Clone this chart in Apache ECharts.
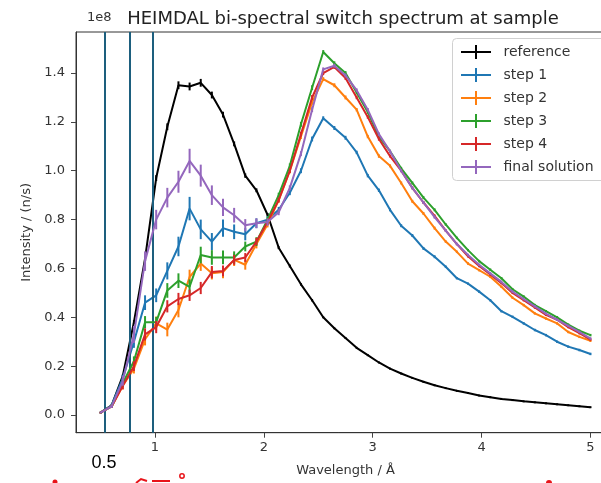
<!DOCTYPE html>
<html>
<head>
<meta charset="utf-8">
<script src="https://cdn.jsdelivr.net/npm/echarts@6/dist/echarts.min.js"></script>
<style>
html,body{margin:0;padding:0;background:#fff;}
#chart{width:601px;height:483px;}
</style>
</head>
<body>
<div id="chart"></div>
<script>
// Wavelength grid (Å)
const wavelength = [0.5, 0.6023, 0.7045, 0.8068, 0.9091, 1.0114, 1.1136, 1.2159, 1.3182, 1.4205,
  1.5227, 1.625, 1.7273, 1.8295, 1.9318, 2.0341, 2.1364, 2.2386, 2.3409, 2.4432,
  2.5455, 2.6477, 2.75, 2.8523, 2.9545, 3.0568, 3.1591, 3.2614, 3.3636, 3.4659,
  3.5682, 3.6705, 3.7727, 3.875, 3.9773, 4.0795, 4.1818, 4.2841, 4.3864, 4.4886,
  4.5909, 4.6932, 4.7955, 4.8977, 5.0];

// Intensities in units of 1e8 n/s
const reference = [0.01,0.04,0.16,0.38,0.64,0.97,1.18,1.35,1.345,1.36,
  1.31,1.23,1.11,0.98,0.92,0.82,0.685,0.61,0.535,0.47,
  0.40,0.355,0.315,0.275,0.245,0.215,0.19,0.17,0.152,0.136,
  0.122,0.11,0.099,0.09,0.08,0.073,0.066,0.061,0.056,0.052,
  0.048,0.044,0.04,0.036,0.032];
const step1 = [0.01,0.04,0.15,0.30,0.46,0.49,0.59,0.69,0.845,0.76,
  0.71,0.765,0.75,0.74,0.785,0.80,0.84,0.91,1.00,1.13,
  1.215,1.175,1.135,1.075,0.98,0.92,0.84,0.775,0.735,0.682,
  0.648,0.607,0.56,0.538,0.505,0.47,0.425,0.402,0.375,0.348,
  0.327,0.30,0.28,0.266,0.25];
const step2 = [0.01,0.035,0.12,0.19,0.31,0.375,0.35,0.43,0.565,0.62,
  0.58,0.585,0.635,0.615,0.70,0.78,0.88,1.00,1.14,1.28,
  1.375,1.35,1.30,1.25,1.14,1.06,1.02,0.95,0.875,0.825,
  0.765,0.71,0.668,0.62,0.593,0.566,0.525,0.48,0.45,0.416,
  0.395,0.375,0.34,0.32,0.304];
const step3 = [0.01,0.035,0.13,0.22,0.38,0.38,0.51,0.55,0.525,0.655,
  0.645,0.645,0.645,0.69,0.71,0.80,0.90,1.02,1.19,1.34,
  1.486,1.44,1.40,1.32,1.24,1.14,1.08,1.01,0.95,0.89,
  0.84,0.78,0.725,0.675,0.63,0.595,0.56,0.515,0.485,0.45,
  0.425,0.40,0.37,0.345,0.327];
const step4 = [0.01,0.035,0.12,0.20,0.33,0.36,0.445,0.475,0.49,0.52,
  0.585,0.59,0.635,0.645,0.71,0.79,0.88,1.00,1.15,1.30,
  1.40,1.425,1.38,1.30,1.22,1.13,1.06,1.00,0.93,0.87,
  0.815,0.755,0.70,0.65,0.61,0.575,0.54,0.50,0.47,0.44,
  0.41,0.39,0.36,0.335,0.309];
const finalSolution = [0.01,0.035,0.14,0.33,0.63,0.80,0.89,0.955,1.04,0.98,
  0.90,0.85,0.818,0.777,0.785,0.79,0.83,0.93,1.07,1.25,
  1.415,1.43,1.39,1.33,1.25,1.15,1.08,1.00,0.93,0.87,
  0.81,0.755,0.70,0.655,0.615,0.58,0.545,0.505,0.475,0.445,
  0.415,0.39,0.365,0.34,0.313];

// Error bar half-lengths (1e8 n/s)
const referenceErr = [0.003,0.004,0.006,0.008,0.01,0.012,0.014,0.016,0.016,0.016,
  0.014,0.012,0.01,0.009,0.008,0.007,0.006,0.006,0.005,0.005,
  0.004,0.004,0.004,0.004,0.004,0.004,0.004,0.004,0.004,0.004,
  0.004,0.004,0.004,0.004,0.004,0.004,0.004,0.004,0.004,0.004,
  0.004,0.004,0.004,0.004,0.004];
const step1Err = [0.003,0.006,0.015,0.025,0.03,0.028,0.035,0.04,0.048,0.04,
  0.035,0.035,0.03,0.025,0.02,0.015,0.012,0.01,0.01,0.01,
  0.008,0.008,0.008,0.007,0.007,0.007,0.006,0.006,0.006,0.006,
  0.006,0.005,0.005,0.005,0.005,0.005,0.005,0.005,0.005,0.005,
  0.005,0.005,0.005,0.005,0.005];
const step2Err = [0.003,0.006,0.015,0.02,0.025,0.028,0.028,0.03,0.03,0.03,
  0.025,0.025,0.025,0.02,0.018,0.012,0.01,0.01,0.01,0.01,
  0.008,0.008,0.008,0.007,0.007,0.007,0.006,0.006,0.006,0.006,
  0.006,0.005,0.005,0.005,0.005,0.005,0.005,0.005,0.005,0.005,
  0.005,0.005,0.005,0.005,0.005];
const step3Err = [0.003,0.006,0.015,0.02,0.025,0.022,0.03,0.03,0.03,0.034,
  0.03,0.028,0.025,0.02,0.018,0.012,0.01,0.01,0.01,0.01,
  0.008,0.008,0.008,0.007,0.007,0.007,0.006,0.006,0.006,0.006,
  0.006,0.005,0.005,0.005,0.005,0.005,0.005,0.005,0.005,0.005,
  0.005,0.005,0.005,0.005,0.005];
const step4Err = [0.003,0.006,0.015,0.02,0.025,0.025,0.025,0.025,0.023,0.025,
  0.025,0.022,0.02,0.018,0.015,0.012,0.01,0.01,0.01,0.01,
  0.008,0.008,0.008,0.007,0.007,0.007,0.006,0.006,0.006,0.006,
  0.006,0.005,0.005,0.005,0.005,0.005,0.005,0.005,0.005,0.005,
  0.005,0.005,0.005,0.005,0.005];
const finalSolutionErr = [0.003,0.006,0.02,0.035,0.04,0.04,0.04,0.045,0.05,0.045,
  0.04,0.035,0.03,0.025,0.02,0.015,0.012,0.01,0.01,0.01,
  0.008,0.008,0.008,0.007,0.007,0.007,0.006,0.006,0.006,0.006,
  0.006,0.005,0.005,0.005,0.005,0.005,0.005,0.005,0.005,0.005,
  0.005,0.005,0.005,0.005,0.005];

const seriesNames = ['reference', 'step 1', 'step 2', 'step 3', 'step 4', 'final solution'];
const seriesValues = [reference, step1, step2, step3, step4, finalSolution];
const seriesErrors = [referenceErr, step1Err, step2Err, step3Err, step4Err, finalSolutionErr];
const seriesColors = ['#000000', '#1f77b4', '#ff7f0e', '#2ca02c', '#d62728', '#9467bd'];

const xTicks = [1, 2, 3, 4, 5];
const yTicks = [0, 0.2, 0.4, 0.6, 0.8, 1.0, 1.2, 1.4];
const overlayLines = [0.535, 0.77, 0.985];

const FONT = 'DejaVu Sans';
const crossIcon = 'path://M0,6L30,6L30,8L0,8Z M14,0L16,0L16,14L14,14Z';

const chart = echarts.init(document.getElementById('chart'), null, {renderer: 'canvas'});

const series = [];
seriesNames.forEach((name, si) => {
  const vals = seriesValues[si];
  const errs = seriesErrors[si];
  const color = seriesColors[si];
  series.push({
    name: name,
    type: 'line',
    data: wavelength.map((x, i) => [x, vals[i]]),
    showSymbol: false,
    symbol: 'none',
    lineStyle: {color: color, width: 2},
    itemStyle: {color: color},
    z: 2 + si,
    silent: true
  });
  series.push({
    name: name,
    type: 'custom',
    data: wavelength.map((x, i) => [x, vals[i], errs[i]]),
    itemStyle: {color: color},
    z: 2 + si,
    silent: true,
    renderItem: function (params, api) {
      const x = api.value(0), y = api.value(1), e = api.value(2);
      const p1 = api.coord([x, y - e]);
      const p2 = api.coord([x, y + e]);
      return {
        type: 'line',
        shape: {x1: p1[0], y1: p1[1], x2: p2[0], y2: p2[1]},
        style: {stroke: color, lineWidth: 2}
      };
    }
  });
});

series.push({
  name: 'overlay',
  type: 'line',
  data: [],
  z: 20,
  markLine: {
    silent: true,
    symbol: 'none',
    label: {show: false},
    lineStyle: {color: '#1d5f7e', width: 2, type: 'solid'},
    data: overlayLines.map(v => ({xAxis: v}))
  }
});

const option = {
  animation: false,
  backgroundColor: '#ffffff',
  title: {
    text: 'HEIMDAL bi-spectral switch spectrum at sample',
    left: 338, top: 5, textAlign: 'center',
    textStyle: {fontFamily: FONT, fontSize: 18, fontWeight: 'normal', color: '#222'}
  },
  legend: {
    orient: 'vertical',
    left: 452, top: 38,
    data: seriesNames.map(n => ({name: n, icon: crossIcon})),
    itemWidth: 31, itemHeight: 14, itemGap: 9,
    padding: [7, 10, 7, 9],
    backgroundColor: 'transparent',
    borderWidth: 0,
    textStyle: {fontFamily: FONT, fontSize: 14, color: '#333', lineHeight: 14, padding: [0, 0, 0, 7]},
    selectedMode: false,
    z: 12
  },
  grid: {left: 76, top: 32, width: 539, height: 400.7, show: true, borderColor: '#333', borderWidth: 1,
    containLabel: false, outerBoundsMode: 'none'},
  xAxis: {
    type: 'value', min: 0.275, max: 5.225,
    name: 'Wavelength / Å', nameLocation: 'middle', nameGap: 31,
    nameTextStyle: {fontFamily: FONT, fontSize: 13, color: '#333'},
    axisLine: {show: true, onZero: false, lineStyle: {color: '#333'}},
    axisTick: {show: true, length: 5, customValues: xTicks, lineStyle: {color: '#444'}},
    axisLabel: {customValues: xTicks, fontFamily: FONT, fontSize: 13, color: '#333', margin: 8, formatter: v => String(v)},
    splitLine: {show: false}
  },
  yAxis: {
    type: 'value', min: -0.0724, max: 1.568,
    name: 'Intensity / (n/s)', nameLocation: 'middle', nameGap: 42, nameRotate: 90,
    nameTextStyle: {fontFamily: FONT, fontSize: 13, color: '#333'},
    axisLine: {show: true, onZero: false, lineStyle: {color: '#333'}},
    axisTick: {show: true, length: 5, customValues: yTicks, lineStyle: {color: '#444'}},
    axisLabel: {customValues: yTicks, fontFamily: FONT, fontSize: 13, color: '#333', margin: 11, formatter: v => v.toFixed(1)},
    splitLine: {show: false}
  },
  graphic: [
    {type: 'rect', z: 10, silent: true, shape: {x: 452.5, y: 38.5, width: 200, height: 142, r: 4},
      style: {fill: 'rgba(255,255,255,0.85)', stroke: '#d0d0d0', lineWidth: 1}},
    {type: 'text', left: 87, top: 11, style: {text: '1e8', font: '13px "DejaVu Sans"', fill: '#333'}},
    {type: 'text', x: 104, y: 463, style: {text: '0.5', font: '18px "Liberation Sans"', fill: '#000', align: 'center', verticalAlign: 'middle'}},
    {type: 'circle', shape: {cx: 55, cy: 482, r: 2.5}, style: {fill: '#e8141a'}},
    {type: 'circle', shape: {cx: 182, cy: 476, r: 2.2}, style: {fill: 'none', stroke: '#e8141a', lineWidth: 1.5}},
    {type: 'polyline', shape: {points: [[136, 483], [141, 479], [147, 481]]}, style: {fill: 'none', stroke: '#e8141a', lineWidth: 2}},
    {type: 'line', shape: {x1: 152, y1: 481, x2: 170, y2: 481}, style: {stroke: '#e8141a', lineWidth: 2}},
    {type: 'circle', shape: {cx: 549, cy: 483, r: 3}, style: {fill: '#e8141a'}}
  ],
  series: series
};
chart.setOption(option);
</script>
</body>
</html>
